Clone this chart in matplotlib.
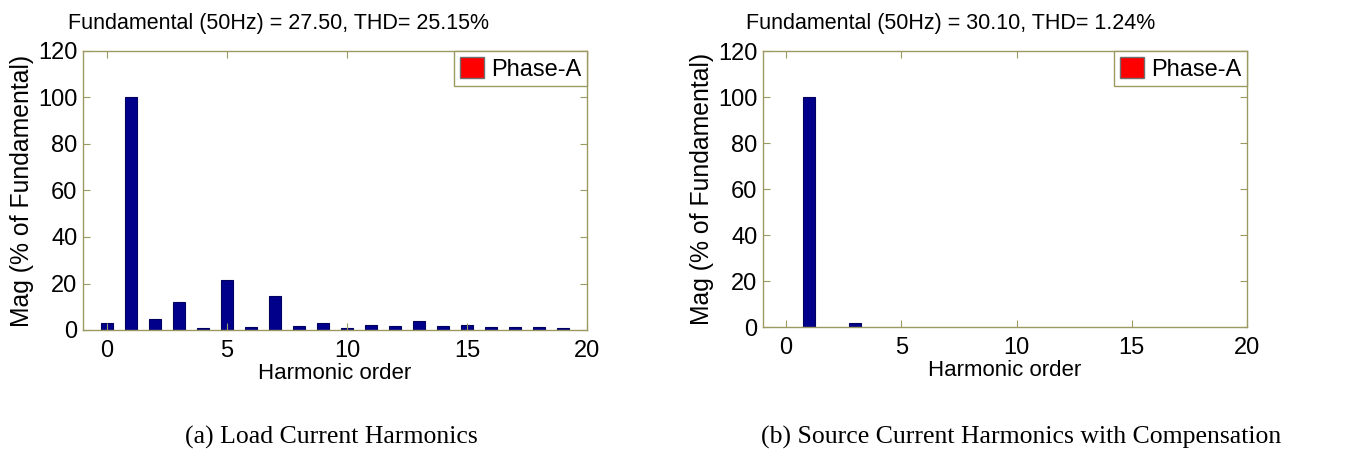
import matplotlib
matplotlib.use("Agg")
import matplotlib.pyplot as plt

# harmonic spectra
orders = list(range(20))
load_mag = [3.0, 100, 4.6, 12.2, 0.7, 21.4, 1.1, 14.7, 1.6, 3.1,
            1.0, 2.1, 1.6, 3.9, 1.6, 2.0, 1.1, 1.1, 1.1, 1.0]
source_orders = [1, 3]
source_mag = [100, 1.8]

titles = ["Fundamental (50Hz) = 27.50, THD= 25.15%",
          "Fundamental (50Hz) = 30.10, THD= 1.24%"]
captions = ["(a) Load Current Harmonics",
            "(b) Source Current Harmonics with Compensation"]
yticks = [0, 20, 40, 60, 80, 100, 120]
xticks = [0, 5, 10, 15, 20]

sans = "Liberation Sans"
serif = "Liberation Serif"

axis_col = "#9c9a62"
bar_col = "#00008b"
fs = 17

fig = plt.figure(figsize=(13.51, 4.53), dpi=100)
ax1 = fig.add_axes([83/1351, 123/453, 504/1351, 279/453])
ax2 = fig.add_axes([763/1351, 126/453, 484/1351, 276/453])

def style_axes(ax, x, y):
    ax.bar(x, y, width=0.5, color=bar_col, edgecolor="#000060", linewidth=0.8)
    ax.set_xlim(-1, 20)
    ax.set_ylim(0, 120)
    ax.set_xticks(xticks)
    ax.set_yticks(yticks)
    for s in ax.spines.values():
        s.set_color(axis_col)
        s.set_linewidth(1.0)
    ax.tick_params(direction="in", top=True, right=True, length=5,
                   color=axis_col, labelsize=fs)
    ax.tick_params(axis="x", pad=7)
    ax.tick_params(axis="y", pad=4)
    for lab in ax.get_xticklabels() + ax.get_yticklabels():
        lab.set_fontname(sans)
    ax.set_xlabel("Harmonic order", fontname=sans, fontsize=16, labelpad=1)
    ax.set_ylabel("Mag (% of Fundamental)", fontname=sans, fontsize=17.8, labelpad=3)
    h = plt.Rectangle((0, 0), 1, 1, facecolor="#ff0000", edgecolor="#707070")
    leg = ax.legend([h], ["Phase-A"], loc="upper right", borderaxespad=0,
                    prop={"family": sans, "size": fs}, fancybox=False,
                    handlelength=1.0, handleheight=1.0, handletextpad=0.3,
                    borderpad=0.25, framealpha=1)
    leg.get_frame().set_edgecolor(axis_col)
    leg.get_frame().set_linewidth(1.0)

style_axes(ax1, orders, load_mag)
style_axes(ax2, source_orders, source_mag)

# titles sit left of the axes centre in the original
fig.text(278/1351, 1 - 23/453, titles[0], fontname=sans, fontsize=15.5,
         ha="center", va="center")
fig.text(951/1351, 1 - 23/453, titles[1], fontname=sans, fontsize=15.5,
         ha="center", va="center")

fig.text(331/1351, 1 - 437/453, captions[0], fontname=serif, fontsize=18.5,
         ha="center", va="center")
fig.text(1021/1351, 1 - 437/453, captions[1], fontname=serif, fontsize=18.5,
         ha="center", va="center")

fig.savefig("out.png", dpi=100)
